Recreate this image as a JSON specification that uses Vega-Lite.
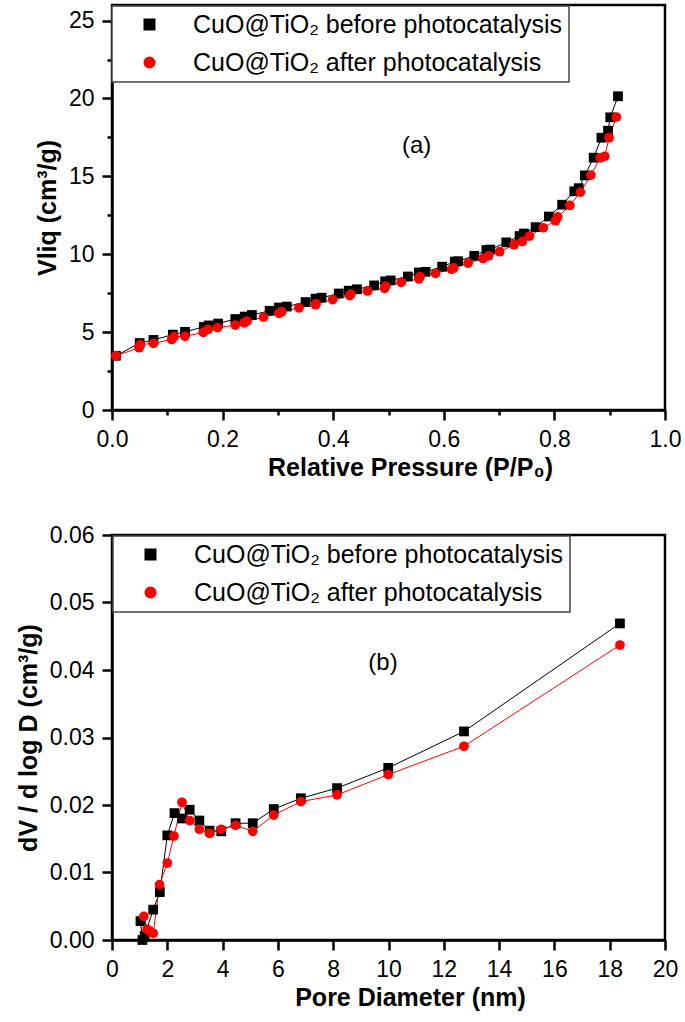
{
  "$schema": "https://vega.github.io/schema/vega-lite/v6.json",
  "background": "white",
  "padding": {"left": 14, "top": 3, "right": 5, "bottom": 5},
  "spacing": 40,
  "config": {
    "font": "Liberation Sans",
    "view": {"stroke": "black", "strokeWidth": 2.5},
    "axis": {
      "grid": false,
      "domainColor": "black",
      "domainWidth": 2.5,
      "tickColor": "black",
      "tickWidth": 2.5,
      "labelFont": "Liberation Sans",
      "labelFontSize": 23,
      "labelColor": "black",
      "labelPadding": 8,
      "labelFlush": false,
      "labelOverlap": false,
      "labelBound": false,
      "titleFont": "Liberation Sans",
      "titleFontSize": 25,
      "titleFontWeight": "bold",
      "titleColor": "black"
    },
    "legend": {
      "labelFont": "Liberation Sans",
      "labelFontSize": 25,
      "labelColor": "black",
      "labelLimit": 1000,
      "symbolSize": 110,
      "symbolOffset": 19,
      "labelOffset": 31,
      "rowPadding": 12,
      "padding": 6,
      "strokeColor": "#444444",
      "strokeWidth": 1.5,
      "fillColor": "white"
    }
  },
  "datasets": {
    "iso": [
      {"p":0.007,"v":3.48,"s":"before"},{"p":0.05,"v":4.3,"s":"before"},{"p":0.075,"v":4.5,"s":"before"},{"p":0.11,"v":4.84,"s":"before"},{"p":0.132,"v":5.02,"s":"before"},{"p":0.166,"v":5.33,"s":"before"},{"p":0.175,"v":5.43,"s":"before"},{"p":0.192,"v":5.55,"s":"before"},{"p":0.223,"v":5.84,"s":"before"},{"p":0.24,"v":6.0,"s":"before"},{"p":0.253,"v":6.1,"s":"before"},{"p":0.285,"v":6.37,"s":"before"},{"p":0.302,"v":6.58,"s":"before"},{"p":0.316,"v":6.64,"s":"before"},{"p":0.35,"v":6.93,"s":"before"},{"p":0.368,"v":7.15,"s":"before"},{"p":0.379,"v":7.21,"s":"before"},{"p":0.41,"v":7.48,"s":"before"},{"p":0.428,"v":7.66,"s":"before"},{"p":0.443,"v":7.75,"s":"before"},{"p":0.474,"v":8.0,"s":"before"},{"p":0.494,"v":8.26,"s":"before"},{"p":0.504,"v":8.32,"s":"before"},{"p":0.535,"v":8.57,"s":"before"},{"p":0.555,"v":8.83,"s":"before"},{"p":0.567,"v":8.87,"s":"before"},{"p":0.597,"v":9.2,"s":"before"},{"p":0.62,"v":9.53,"s":"before"},{"p":0.626,"v":9.55,"s":"before"},{"p":0.655,"v":9.9,"s":"before"},{"p":0.677,"v":10.27,"s":"before"},{"p":0.684,"v":10.3,"s":"before"},{"p":0.713,"v":10.76,"s":"before"},{"p":0.737,"v":11.17,"s":"before"},{"p":0.745,"v":11.33,"s":"before"},{"p":0.766,"v":11.74,"s":"before"},{"p":0.79,"v":12.42,"s":"before"},{"p":0.814,"v":13.18,"s":"before"},{"p":0.836,"v":14.04,"s":"before"},{"p":0.844,"v":14.24,"s":"before"},{"p":0.855,"v":15.06,"s":"before"},{"p":0.871,"v":16.2,"s":"before"},{"p":0.885,"v":17.48,"s":"before"},{"p":0.897,"v":17.93,"s":"before"},{"p":0.901,"v":18.79,"s":"before"},{"p":0.915,"v":20.14,"s":"before"},
      {"p":0.007,"v":3.48,"s":"after"},{"p":0.049,"v":4.0,"s":"after"},{"p":0.051,"v":4.2,"s":"after"},{"p":0.075,"v":4.28,"s":"after"},{"p":0.108,"v":4.53,"s":"after"},{"p":0.112,"v":4.71,"s":"after"},{"p":0.132,"v":4.73,"s":"after"},{"p":0.165,"v":4.98,"s":"after"},{"p":0.174,"v":5.18,"s":"after"},{"p":0.191,"v":5.29,"s":"after"},{"p":0.223,"v":5.45,"s":"after"},{"p":0.239,"v":5.6,"s":"after"},{"p":0.244,"v":5.7,"s":"after"},{"p":0.274,"v":5.96,"s":"after"},{"p":0.302,"v":6.21,"s":"after"},{"p":0.307,"v":6.31,"s":"after"},{"p":0.338,"v":6.56,"s":"after"},{"p":0.368,"v":6.76,"s":"after"},{"p":0.369,"v":6.82,"s":"after"},{"p":0.399,"v":7.09,"s":"after"},{"p":0.43,"v":7.34,"s":"after"},{"p":0.432,"v":7.44,"s":"after"},{"p":0.462,"v":7.64,"s":"after"},{"p":0.493,"v":7.81,"s":"after"},{"p":0.495,"v":7.95,"s":"after"},{"p":0.523,"v":8.2,"s":"after"},{"p":0.555,"v":8.42,"s":"after"},{"p":0.557,"v":8.57,"s":"after"},{"p":0.585,"v":8.77,"s":"after"},{"p":0.614,"v":9.04,"s":"after"},{"p":0.618,"v":9.12,"s":"after"},{"p":0.644,"v":9.43,"s":"after"},{"p":0.671,"v":9.73,"s":"after"},{"p":0.681,"v":9.9,"s":"after"},{"p":0.701,"v":10.16,"s":"after"},{"p":0.727,"v":10.61,"s":"after"},{"p":0.742,"v":10.82,"s":"after"},{"p":0.755,"v":11.17,"s":"after"},{"p":0.78,"v":11.7,"s":"after"},{"p":0.802,"v":12.15,"s":"after"},{"p":0.806,"v":12.4,"s":"after"},{"p":0.828,"v":13.13,"s":"after"},{"p":0.847,"v":13.99,"s":"after"},{"p":0.866,"v":15.08,"s":"after"},{"p":0.883,"v":16.19,"s":"after"},{"p":0.891,"v":16.29,"s":"after"},{"p":0.899,"v":17.48,"s":"after"},{"p":0.912,"v":18.81,"s":"after"}
    ],
    "psd": [
      {"d":1.03,"v":0.0028,"s":"before"},{"d":1.1,"v":0.0,"s":"before"},{"d":1.18,"v":0.0006,"s":"before"},{"d":1.49,"v":0.0045,"s":"before"},{"d":1.73,"v":0.0071,"s":"before"},{"d":2.0,"v":0.0155,"s":"before"},{"d":2.26,"v":0.0188,"s":"before"},{"d":2.53,"v":0.018,"s":"before"},{"d":2.81,"v":0.0193,"s":"before"},{"d":3.16,"v":0.0177,"s":"before"},{"d":3.53,"v":0.0162,"s":"before"},{"d":3.95,"v":0.0161,"s":"before"},{"d":4.47,"v":0.0173,"s":"before"},{"d":5.09,"v":0.0173,"s":"before"},{"d":5.85,"v":0.0194,"s":"before"},{"d":6.83,"v":0.021,"s":"before"},{"d":8.14,"v":0.0225,"s":"before"},{"d":9.99,"v":0.0255,"s":"before"},{"d":12.73,"v":0.0309,"s":"before"},{"d":18.37,"v":0.0469,"s":"before"},
      {"d":1.15,"v":0.0035,"s":"after"},{"d":1.27,"v":0.0016,"s":"after"},{"d":1.37,"v":0.0013,"s":"after"},{"d":1.49,"v":0.001,"s":"after"},{"d":1.72,"v":0.0082,"s":"after"},{"d":2.0,"v":0.0114,"s":"after"},{"d":2.24,"v":0.0154,"s":"after"},{"d":2.53,"v":0.0204,"s":"after"},{"d":2.81,"v":0.0177,"s":"after"},{"d":3.16,"v":0.0164,"s":"after"},{"d":3.53,"v":0.0158,"s":"after"},{"d":3.95,"v":0.0164,"s":"after"},{"d":4.47,"v":0.017,"s":"after"},{"d":5.09,"v":0.0161,"s":"after"},{"d":5.85,"v":0.0185,"s":"after"},{"d":6.83,"v":0.0205,"s":"after"},{"d":8.14,"v":0.0215,"s":"after"},{"d":9.99,"v":0.0245,"s":"after"},{"d":12.73,"v":0.0287,"s":"after"},{"d":18.37,"v":0.0437,"s":"after"}
    ]
  },
  "vconcat": [
    {
      "width": 553,
      "height": 405,
      "layer": [
        {
          "data": {"name": "iso"},
          "mark": {"type": "line", "strokeWidth": 1},
          "encoding": {
            "x": {"field": "p", "type": "quantitative", "scale": {"domain": [0, 1]},
              "axis": {"values": [0,0.1,0.2,0.3,0.4,0.5,0.6,0.7,0.8,0.9,1.0], "format": ".1f",
                "labelExpr": "round(datum.value*10)%2==0 ? datum.label : ''",
                "tickSize": {"condition": {"test": "round(datum.value*10)%2==0", "value": 10}, "value": 5},
                "title": "Relative Pressure (P/P₀)", "titleX": 298, "titlePadding": 4}},
            "y": {"field": "v", "type": "quantitative", "scale": {"domain": [0, 25]},
              "axis": {"values": [0,2.5,5,7.5,10,12.5,15,17.5,20,22.5,25],
                "labelExpr": "datum.value%5==0 ? datum.label : ''",
                "tickSize": {"condition": {"test": "datum.value%5==0", "value": 10}, "value": 5},
                "title": "Vliq (cm³/g)", "titlePadding": 8}},
            "color": {"field": "s", "type": "nominal", "scale": {"domain": ["before", "after"], "range": ["black", "red"]}}
          }
        },
        {
          "data": {"name": "iso"},
          "mark": {"type": "point", "filled": true, "opacity": 1, "size": 95},
          "encoding": {
            "x": {"field": "p", "type": "quantitative"},
            "y": {"field": "v", "type": "quantitative"},
            "color": {"field": "s", "type": "nominal",
              "legend": {"orient": "none", "legendX": 0, "legendY": 1, "title": null,
                "padding": 6, "strokeColor": "#444444", "fillColor": "white",
                "labelExpr": "datum.value == 'before' ? 'CuO@TiO₂ before photocatalysis' : 'CuO@TiO₂ after photocatalysis'"}},
            "shape": {"field": "s", "type": "nominal", "scale": {"domain": ["before", "after"], "range": ["square", "circle"]}}
          }
        },
        {
          "data": {"values": [{}]},
          "mark": {"type": "text", "fontSize": 24, "font": "Liberation Sans", "color": "black"},
          "encoding": {"x": {"datum": 0.551}, "y": {"datum": 16.97}, "text": {"value": "(a)"}}
        }
      ]
    },
    {
      "width": 553,
      "height": 405,
      "layer": [
        {
          "data": {"name": "psd"},
          "mark": {"type": "line", "strokeWidth": 1},
          "encoding": {
            "x": {"field": "d", "type": "quantitative", "scale": {"domain": [0, 20]},
              "axis": {"values": [0,1,2,3,4,5,6,7,8,9,10,11,12,13,14,15,16,17,18,19,20],
                "labelExpr": "datum.value%2==0 ? datum.label : ''",
                "tickSize": {"condition": {"test": "datum.value%2==0", "value": 10}, "value": 5},
                "title": "Pore Diameter (nm)", "titleX": 298, "titlePadding": 4}},
            "y": {"field": "v", "type": "quantitative", "scale": {"domain": [0, 0.06]},
              "axis": {"values": [0,0.005,0.01,0.015,0.02,0.025,0.03,0.035,0.04,0.045,0.05,0.055,0.06], "format": ".2f",
                "labelExpr": "round(datum.value*1000)%10==0 ? datum.label : ''",
                "tickSize": {"condition": {"test": "round(datum.value*1000)%10==0", "value": 10}, "value": 5},
                "title": "dV / d log D (cm³/g)", "titlePadding": 8}},
            "color": {"field": "s", "type": "nominal", "scale": {"domain": ["before", "after"], "range": ["black", "red"]}}
          }
        },
        {
          "data": {"name": "psd"},
          "mark": {"type": "point", "filled": true, "opacity": 1, "size": 95},
          "encoding": {
            "x": {"field": "d", "type": "quantitative"},
            "y": {"field": "v", "type": "quantitative"},
            "color": {"field": "s", "type": "nominal",
              "legend": {"orient": "none", "legendX": 1, "legendY": 1, "title": null,
                "padding": 6, "strokeColor": "#444444", "fillColor": "white",
                "labelExpr": "datum.value == 'before' ? 'CuO@TiO₂ before photocatalysis' : 'CuO@TiO₂ after photocatalysis'"}},
            "shape": {"field": "s", "type": "nominal", "scale": {"domain": ["before", "after"], "range": ["square", "circle"]}}
          }
        },
        {
          "data": {"values": [{}]},
          "mark": {"type": "text", "fontSize": 24, "font": "Liberation Sans", "color": "black"},
          "encoding": {"x": {"datum": 9.8}, "y": {"datum": 0.041}, "text": {"value": "(b)"}}
        }
      ]
    }
  ],
  "resolve": {"scale": {"x": "independent", "y": "independent", "color": "independent", "shape": "independent"}}
}
